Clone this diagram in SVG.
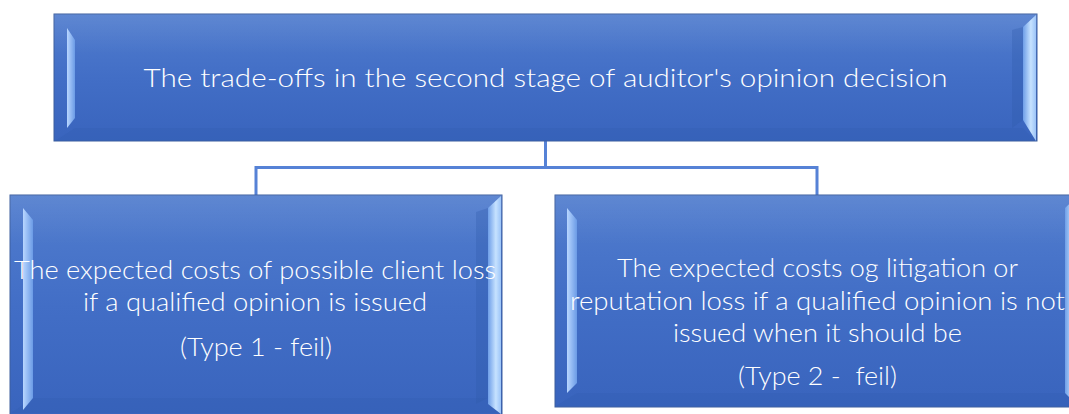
<svg xmlns="http://www.w3.org/2000/svg" width="1069" height="414" viewBox="0 0 1069 414">
  <style>
    .box { fill: url(#boxFill); stroke: #3d5f9e; stroke-width: 1; }
    .shade { fill: url(#shadeFill); }
    .lite { fill: url(#liteFill); }
    .rlite { fill: url(#rliteFill); }
    .rdark { fill: #2f5aa8; opacity: 0.3; }
    .bdark { fill: #2c58a8; opacity: 0.2; }
    .lbl { font-family: Lato, "Open Sans", "Liberation Sans", sans-serif; font-weight: 300; fill: #ffffff; text-anchor: middle; }
    .t1 { font-size: 26px; }
    .t2 { font-size: 25px; }
    .wire { fill: none; stroke: #5682d6; stroke-width: 3; }
  </style>
  <defs>
    <linearGradient id="boxFill" x1="0" y1="0" x2="0" y2="1">
      <stop offset="0" stop-color="#517dce"/>
      <stop offset="0.5" stop-color="#426ec6"/>
      <stop offset="1" stop-color="#3964bd"/>
    </linearGradient>
    <linearGradient id="shadeFill" x1="0" y1="0" x2="0" y2="1">
      <stop offset="0" stop-color="#ffffff" stop-opacity="0.08"/>
      <stop offset="1" stop-color="#ffffff" stop-opacity="0"/>
    </linearGradient>
    <linearGradient id="liteFill" x1="0" y1="0" x2="1" y2="0">
      <stop offset="0" stop-color="#b8d6ff"/>
      <stop offset="1" stop-color="#6b9be6"/>
    </linearGradient>
    <linearGradient id="rliteFill" x1="0" y1="0" x2="1" y2="0">
      <stop offset="0" stop-color="#6e9ee8"/>
      <stop offset="0.6" stop-color="#c6e2ff"/>
      <stop offset="1" stop-color="#9cc4f8"/>
    </linearGradient>
  </defs>

  <!-- tree connectors -->
  <g id="connectors">
    <path class="wire" d="M545.5,141 V167.5 M256,195 V167.5 H817 V195"/>
  </g>

  <!-- root node -->
  <g id="root">
    <rect class="box" x="54" y="14" width="983" height="127"/>
    <rect class="shade" x="54" y="14" width="983" height="40"/>
    <polygon class="rdark" points="1012,30 1023,27 1023,120 1012,128"/>
    <polygon class="bdark" points="75,128 1023,128 1036,141 55,141"/>
    <polygon class="lite" points="67,28 75,40 75,118 67,128"/>
    <polygon class="rlite" points="1036,15 1036,141 1023,120 1023,27"/>
    <text class="lbl t1" x="545.5" y="87" textLength="804" lengthAdjust="spacingAndGlyphs">The trade-offs in the second stage of auditor's opinion decision</text>
  </g>

  <!-- left child: type 1 -->
  <g id="type1">
    <rect class="box" x="10" y="195" width="492" height="222"/>
    <rect class="shade" x="10" y="195" width="492" height="50"/>
    <polygon class="rdark" points="476,212 488,208 488,398 476,404"/>
    <polygon class="bdark" points="33,398 488,398 501,413 11,413"/>
    <polygon class="lite" points="23,208 33,220 33,398 23,410"/>
    <polygon class="rlite" points="501,196 501,414 488,404 488,208"/>
    <text class="lbl t2" x="255" y="279" textLength="482" lengthAdjust="spacingAndGlyphs">The expected costs of possible client loss</text>
    <text class="lbl t2" x="255" y="311" textLength="344" lengthAdjust="spacingAndGlyphs">if a qualified opinion is issued</text>
    <text class="lbl t2" x="256" y="356" textLength="152" lengthAdjust="spacingAndGlyphs">(Type 1 - feil)</text>
  </g>

  <!-- right child: type 2 -->
  <g id="type2">
    <rect class="box" x="555" y="195" width="524" height="212"/>
    <rect class="shade" x="555" y="195" width="524" height="50"/>
    <polygon class="bdark" points="577,393 1065,393 1078,406 556,406"/>
    <polygon class="lite" points="567,208 577,220 577,383 567,393"/>
    <polygon class="rlite" points="1078,196 1078,406 1065,393 1065,208"/>
    <text class="lbl t2" x="817.5" y="277" textLength="401" lengthAdjust="spacingAndGlyphs">The expected costs og litigation or</text>
    <text class="lbl t2" x="817.5" y="310" textLength="495" lengthAdjust="spacingAndGlyphs">reputation loss if a qualified opinion is not</text>
    <text class="lbl t2" x="817.5" y="342" textLength="289" lengthAdjust="spacingAndGlyphs">issued when it should be</text>
    <text class="lbl t2" x="817.5" y="385" textLength="159" lengthAdjust="spacingAndGlyphs" xml:space="preserve">(Type 2 -  feil)</text>
  </g>
</svg>
